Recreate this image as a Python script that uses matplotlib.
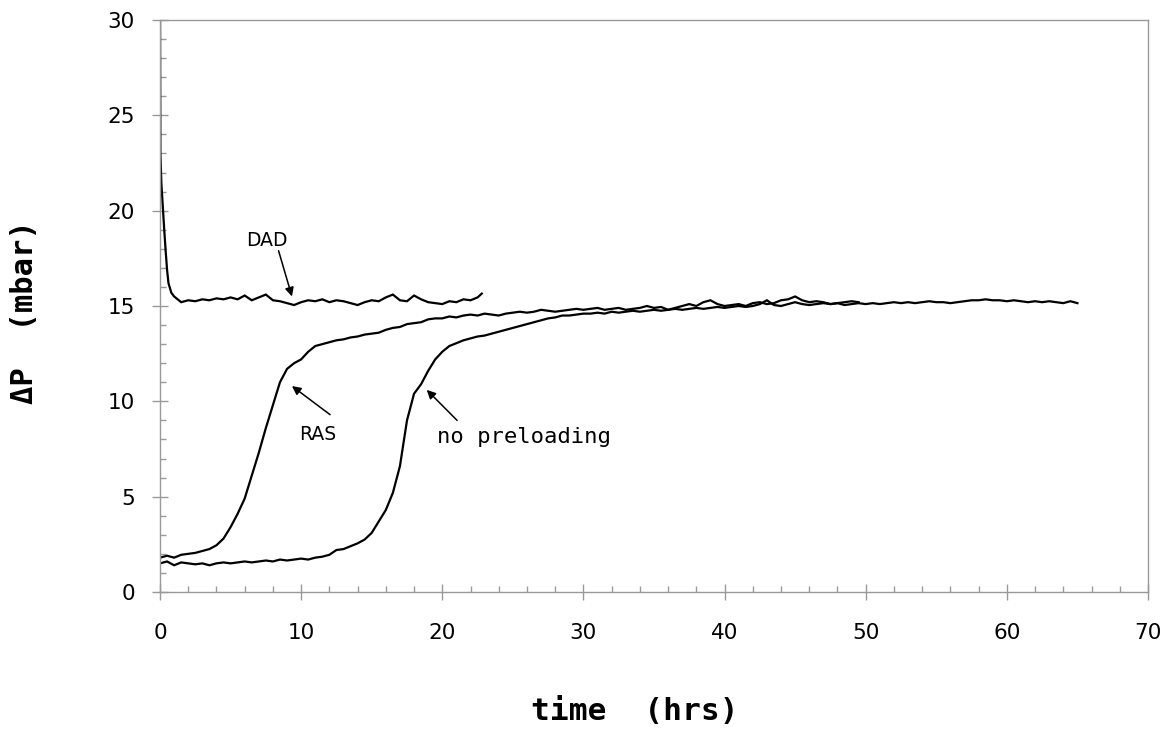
import matplotlib
matplotlib.use("Agg")
import matplotlib.pyplot as plt
from matplotlib.ticker import MultipleLocator

# DAD run (starts off-scale at t=0, drops to ~15.3)
dad_t = [0, 0.03, 0.1, 0.2, 0.3, 0.4, 0.5, 0.6, 0.8,
         1.0, 1.5, 2.0, 2.5, 3.0, 3.5, 4.0, 4.5, 5.0, 5.5, 6.0, 6.5, 7.0, 7.5,
         8.0, 8.5, 9.0, 9.5, 10.0, 10.5, 11.0, 11.5, 12.0, 12.5, 13.0, 13.5,
         14.0, 14.5, 15.0, 15.5, 16.0, 16.5, 17.0, 17.5, 18.0, 18.5, 19.0,
         19.5, 20.0, 20.5, 21.0, 21.5, 22.0, 22.5, 22.8]
dad_p = [31.0, 23.0, 21.4, 20.2, 19.0, 17.9, 16.9, 16.2, 15.7,
         15.5, 15.2, 15.3, 15.25, 15.35, 15.3, 15.4, 15.35, 15.45, 15.35, 15.55, 15.3, 15.45, 15.6,
         15.3, 15.25, 15.15, 15.05, 15.2, 15.3, 15.25, 15.35, 15.2, 15.3, 15.25, 15.15,
         15.05, 15.2, 15.3, 15.25, 15.45, 15.6, 15.3, 15.25, 15.55, 15.35, 15.2,
         15.15, 15.1, 15.25, 15.2, 15.35, 15.3, 15.45, 15.65]

# RAS run, 0.5 hr steps from 0 to 49.5
ras_t = [i * 0.5 for i in range(100)]
ras_p = [1.8, 1.9, 1.8, 1.95, 2.0, 2.05, 2.15, 2.25, 2.45, 2.8,
         3.4, 4.1, 4.9, 6.1, 7.3, 8.6, 9.8, 11.0, 11.7, 12.0,
         12.2, 12.6, 12.9, 13.0, 13.1, 13.2, 13.25, 13.35, 13.4, 13.5,
         13.55, 13.6, 13.75, 13.85, 13.9, 14.05, 14.1, 14.15, 14.3, 14.35,
         14.35, 14.45, 14.4, 14.5, 14.55, 14.5, 14.6, 14.55, 14.5, 14.6,
         14.65, 14.7, 14.65, 14.7, 14.8, 14.75, 14.7, 14.75, 14.8, 14.85,
         14.8, 14.85, 14.9, 14.8, 14.85, 14.9, 14.8, 14.85, 14.9, 15.0,
         14.9, 14.95, 14.8, 14.9, 15.0, 15.1, 15.0, 15.2, 15.3, 15.1,
         15.0, 15.05, 15.1, 15.0, 15.15, 15.2, 15.1, 15.15, 15.3, 15.35,
         15.5, 15.3, 15.2, 15.25, 15.2, 15.1, 15.15, 15.2, 15.25, 15.2]

# no preloading run, 0.5 hr steps from 0 to 65
nopre_t = [i * 0.5 for i in range(131)]
nopre_p = [1.5, 1.6, 1.4, 1.55, 1.5, 1.45, 1.5, 1.4, 1.5, 1.55,
           1.5, 1.55, 1.6, 1.55, 1.6, 1.65, 1.6, 1.7, 1.65, 1.7,
           1.75, 1.7, 1.8, 1.85, 1.95, 2.2, 2.25, 2.4, 2.55, 2.75,
           3.1, 3.7, 4.3, 5.2, 6.6, 9.0, 10.4, 10.9, 11.6, 12.2,
           12.6, 12.9, 13.05, 13.2, 13.3, 13.4, 13.45, 13.55, 13.65, 13.75,
           13.85, 13.95, 14.05, 14.15, 14.25, 14.35, 14.4, 14.5, 14.5, 14.55,
           14.6, 14.6, 14.65, 14.6, 14.7, 14.65, 14.7, 14.75, 14.7, 14.75,
           14.8, 14.75, 14.8, 14.85, 14.8, 14.85, 14.9, 14.85, 14.9, 14.95,
           14.9, 14.95, 15.0, 14.95, 15.0, 15.1, 15.3, 15.05, 15.0, 15.1,
           15.2, 15.1, 15.05, 15.1, 15.15, 15.1, 15.15, 15.05, 15.1, 15.15,
           15.1, 15.15, 15.1, 15.15, 15.2, 15.15, 15.2, 15.15, 15.2, 15.25,
           15.2, 15.2, 15.15, 15.2, 15.25, 15.3, 15.3, 15.35, 15.3, 15.3,
           15.25, 15.3, 15.25, 15.2, 15.25, 15.2, 15.25, 15.2, 15.15, 15.25,
           15.15]

fig = plt.figure(figsize=(11.67, 7.31), dpi=100)
ax = fig.add_axes([0.1371, 0.1902, 0.8466, 0.7824])

for t, p in [(dad_t, dad_p), (ras_t, ras_p), (nopre_t, nopre_p)]:
    ax.plot(t, p, color="black", lw=1.6, solid_joinstyle="miter")

ax.set_xlim(0, 70)
ax.set_ylim(0, 30)
ax.xaxis.set_major_locator(MultipleLocator(10))
ax.xaxis.set_minor_locator(MultipleLocator(2))
ax.yaxis.set_major_locator(MultipleLocator(5))
ax.yaxis.set_minor_locator(MultipleLocator(1))

grey = "#999999"
for s in ax.spines.values():
    s.set_color(grey)
    s.set_linewidth(1.0)
ax.tick_params(which="major", direction="inout", length=12, width=1.0,
               color=grey, labelsize=15.5)
ax.tick_params(which="minor", direction="in", length=4, width=1.0, color=grey)
ax.tick_params(axis="x", which="major", pad=16)
ax.tick_params(axis="y", which="major", pad=12)

# annotations
arrow = dict(arrowstyle="-|>", color="black", lw=1.1, mutation_scale=13,
             shrinkA=0, shrinkB=0)
ax.text(7.6, 18.45, "DAD", fontsize=13.5, ha="center", va="center")
ax.annotate("", xy=(9.35, 15.5), xytext=(8.4, 17.9), arrowprops=arrow)
ax.text(11.2, 8.25, "RAS", fontsize=13.5, ha="center", va="center")
ax.annotate("", xy=(9.35, 10.8), xytext=(12.05, 9.3), arrowprops=arrow)
ax.text(19.6, 8.15, "no preloading", fontsize=16, family="DejaVu Sans Mono",
        ha="left", va="center")
ax.annotate("", xy=(18.9, 10.6), xytext=(21.05, 9.0), arrowprops=arrow)

fig.text(0.544, 0.026, "time  (hrs)", fontsize=22.5, family="DejaVu Sans Mono",
         fontweight="bold", ha="center", va="center")
fig.text(0.0214, 0.573, "\u0394P  (mbar)", fontsize=22, family="DejaVu Sans Mono",
         fontweight="bold", ha="center", va="center", rotation=90)

fig.savefig("out.png", dpi=100)
